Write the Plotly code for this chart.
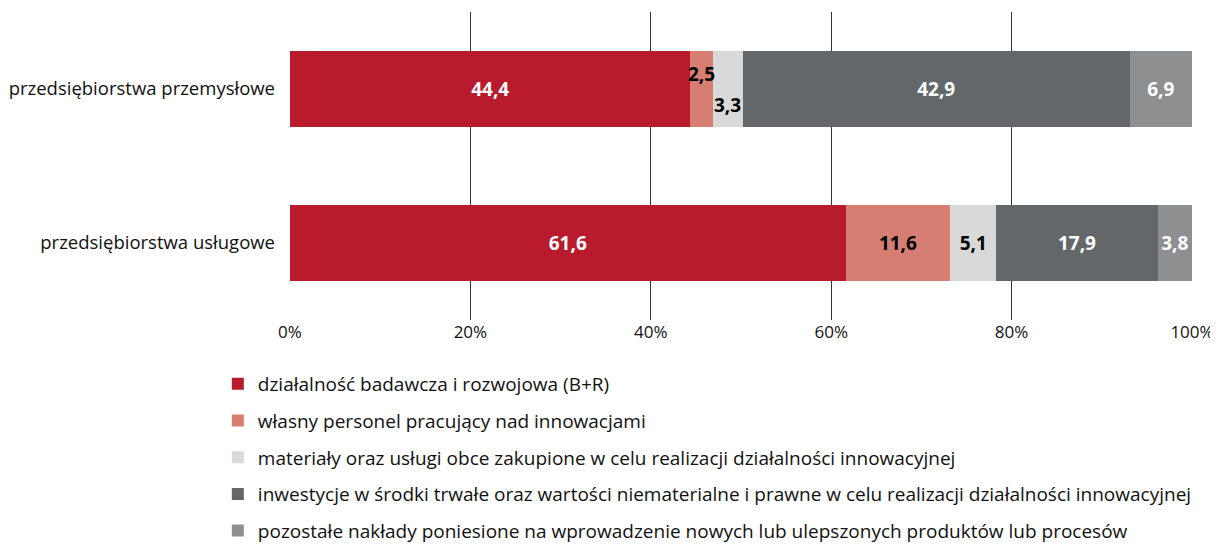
import plotly.graph_objects as go

categories = ["przedsiębiorstwa przemysłowe", "przedsiębiorstwa usługowe"]
series_names = [
    "działalność badawcza i rozwojowa (B+R)",
    "własny personel pracujący nad innowacjami",
    "materiały oraz usługi obce zakupione w celu realizacji działalności innowacyjnej",
    "inwestycje w środki trwałe oraz wartości niematerialne i prawne w celu realizacji działalności innowacyjnej",
    "pozostałe nakłady poniesione na wprowadzenie nowych lub ulepszonych produktów lub procesów",
]
s_br = [44.4, 61.6]
s_personel = [2.5, 11.6]
s_materialy = [3.3, 5.1]
s_inwestycje = [42.9, 17.9]
s_pozostale = [6.9, 3.8]
series_values = [s_br, s_personel, s_materialy, s_inwestycje, s_pozostale]
tick_vals = [0, 20, 40, 60, 80, 100]
tick_text = ["0%", "20%", "40%", "60%", "80%", "100%"]

colors = ["#B71B2C", "#D77E72", "#D9D9D9", "#63676A", "#8D8F90"]
text_colors = ["white", "black", "black", "white", "white"]

def fmt(v):
    return f"{v:.1f}".replace(".", ",")

fig = go.Figure()
small_labels = []
for si, (name, vals) in enumerate(zip(series_names, series_values)):
    texts = []
    for ci, v in enumerate(vals):
        if v < 3.5 and ci == 0:
            texts.append("")
            small_labels.append((si, ci))
        else:
            texts.append(fmt(v))
    fig.add_trace(go.Bar(
        name=name, y=categories, x=vals, orientation="h",
        marker=dict(color=colors[si], line=dict(width=0)),
        text=texts, textposition="inside", insidetextanchor="middle",
        textangle=0, constraintext="none",
        textfont=dict(family="Open Sans", size=19, color=text_colors[si], weight="bold"),
        legendgroup=f"g{si}", hoverinfo="x+name",
    ))

shifts = [15, -16]
for k, (si, ci) in enumerate(small_labels):
    start = sum(series_values[j][ci] for j in range(si))
    mid = start + series_values[si][ci] / 2
    fig.add_annotation(
        x=mid, y=categories[ci], text=fmt(series_values[si][ci]),
        showarrow=False, yshift=shifts[k % 2], xshift=0,
        font=dict(family="Open Sans", size=19, color="black", weight="bold"),
    )

# page body has an 8px default margin; figure sized to fit the 1218x552 window
fig.update_layout(
    barmode="stack", bargap=0.51,
    width=1210, height=544,
    margin=dict(l=282, r=26, t=4, b=232, autoexpand=False),
    plot_bgcolor="white", paper_bgcolor="white",
    font=dict(family="Open Sans", size=18, color="#111"),
    legend=dict(
        orientation="v", x=-0.080, xanchor="left", y=-0.146, yanchor="top",
        font=dict(family="Open Sans", size=19, color="#111"),
        tracegroupgap=9, traceorder="grouped", itemwidth=30,
    ),
    showlegend=True,
)
fig.update_xaxes(
    range=[0, 100], tickvals=tick_vals, ticktext=tick_text,
    showgrid=True, gridcolor="#333333", gridwidth=1,
    zeroline=False, showline=False, ticks="", automargin=False,
    tickfont=dict(family="Open Sans", size=17, color="#111"),
)
fig.update_yaxes(
    categoryorder="array", categoryarray=categories, autorange="reversed",
    showgrid=False, zeroline=False, showline=False, ticks="", automargin=False,
    ticklabelstandoff=14,
    tickfont=dict(family="Open Sans", size=18.5, color="#111"),
)

fig.write_html("out.html")
